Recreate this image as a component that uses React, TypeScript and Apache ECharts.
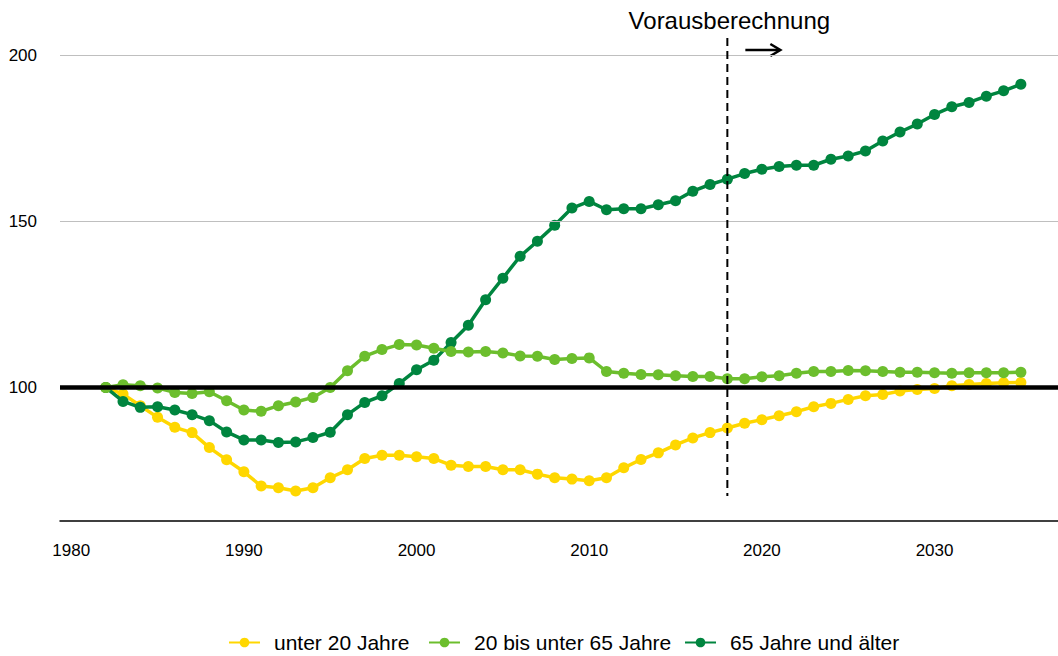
import React, { useEffect, useRef } from "react";
import * as echarts from "echarts";

const years: number[] = [];
for (let y = 1982; y <= 2035; y++) years.push(y);

const unter20 = [
  100, 98, 94.5, 91, 88, 86.4, 81.9, 78.2, 74.6, 70.3, 69.8, 68.8, 69.8, 72.8,
  75.2, 78.6, 79.6, 79.6, 79.1, 78.6, 76.6, 76.2, 76.2, 75.2, 75.2, 73.9, 72.8,
  72.4, 71.9, 72.8, 75.8, 78.3, 80.3, 82.7, 84.8, 86.4, 87.8, 89.2, 90.3, 91.5,
  92.7, 94.2, 95.2, 96.4, 97.5, 97.9, 98.9, 99.4, 99.7, 100.5, 100.9, 101.2,
  101.4, 101.5,
];
const mitte = [
  100, 100.8, 100.5, 99.8, 98.5, 98.2, 98.7, 96, 93.2, 92.8, 94.5, 95.6, 97,
  100, 105, 109.4, 111.4, 112.9, 112.8, 111.8, 110.8, 110.7, 110.8, 110.4,
  109.5, 109.4, 108.4, 108.7, 108.9, 104.8, 104.3, 103.9, 103.8, 103.5, 103.3,
  103.3, 102.6, 102.6, 103.2, 103.5, 104.3, 104.8, 104.8, 105.1, 105, 104.8,
  104.6, 104.6, 104.4, 104.3, 104.4, 104.4, 104.4, 104.6,
];
const alt = [
  100, 95.8, 94, 94.2, 93.2, 91.8, 90, 86.6, 84.2, 84.2, 83.4, 83.6, 84.9, 86.5,
  91.8, 95.5, 97.5, 101.2, 105.3, 108.2, 113.5, 118.7, 126.4, 132.9, 139.5, 144,
  148.8, 154, 156, 153.5, 153.8, 153.8, 155, 156.2, 159.1, 161.1, 162.7, 164.4,
  165.7, 166.5, 166.9, 166.9, 168.7, 169.7, 171.2, 174.2, 176.9, 179.3, 182.2,
  184.5, 185.8, 187.7, 189.3, 191.3,
];

const xTicks = [1980, 1990, 2000, 2010, 2020, 2030];
const yTicks = [100, 150, 200];
const seriesNames = ["unter 20 Jahre", "20 bis unter 65 Jahre", "65 Jahre und älter"];
const colors = ["#FFD700", "#6CBE2D", "#00853F"];
const forecastYear = 2018;
const forecastLabel = "Vorausberechnung";

const FONT = "'Liberation Sans', Arial, sans-serif";
const legendLefts = [228, 428, 684];

export default function App() {
  const ref = useRef<HTMLDivElement>(null);
  useEffect(() => {
    document.body.style.margin = "0";
    if (!ref.current) return;
    const chart = echarts.init(ref.current, null, { renderer: "svg" });
    const mk = (name: string, vals: number[], color: string, z: number) => ({
      name,
      type: "line",
      data: years.map((y, i) => [y, vals[i]]),
      symbol: "circle",
      symbolSize: 11,
      showSymbol: true,
      lineStyle: { color, width: 3.5 },
      itemStyle: { color },
      z,
    });
    chart.setOption({
      animation: false,
      textStyle: { fontFamily: FONT },
      grid: { left: 60, right: 0, top: 55.3, bottom: 135.7, containLabel: false },
      legend: seriesNames.map((n, i) => ({
        data: [n],
        left: legendLefts[i],
        top: 632,
        padding: 0,
        itemWidth: 31,
        itemHeight: 12,
        textStyle: { fontSize: 21, color: "#000", fontFamily: FONT, padding: [0, 0, 0, 9] },
      })),
      xAxis: {
        type: "value",
        min: 1979.35,
        max: 2037.15,
        splitLine: { show: false },
        axisTick: { show: false },
        axisLine: { show: true, lineStyle: { color: "#000", width: 1.5 } },
        axisLabel: {
          customValues: xTicks,
          color: "#000",
          fontSize: 17,
          margin: 22,
          fontFamily: FONT,
          formatter: (v: number) => String(v),
        },
      },
      yAxis: {
        type: "value",
        min: 60,
        max: 200,
        splitLine: { show: false },
        axisTick: { show: false },
        axisLine: { show: false },
        axisLabel: {
          customValues: yTicks,
          color: "#000",
          fontSize: 17,
          margin: 23,
          fontFamily: FONT,
        },
      },
      series: [
        {
          name: "_ref",
          type: "line",
          data: [],
          z: 1,
          silent: true,
          markLine: {
            silent: true,
            symbol: "none",
            label: { show: false },
            data: [
              { yAxis: 150, lineStyle: { color: "#BFBFBF", width: 1, type: "solid" } },
              { yAxis: 200, lineStyle: { color: "#BFBFBF", width: 1, type: "solid" } },
              { yAxis: 100, lineStyle: { color: "#000", width: 4.5, type: "solid" } },
            ],
          },
        },
        mk(seriesNames[0], unter20, colors[0], 2),
        mk(seriesNames[1], mitte, colors[1], 4),
        mk(seriesNames[2], alt, colors[2], 3),
      ],
    });
    const x = chart.convertToPixel({ xAxisIndex: 0 }, forecastYear) as number;
    const yTop = chart.convertToPixel({ yAxisIndex: 0 }, 205.2) as number;
    const yBot = chart.convertToPixel({ yAxisIndex: 0 }, 67.3) as number;
    chart.setOption({
      graphic: [
        {
          type: "line",
          shape: { x1: x, y1: yTop, x2: x, y2: yBot },
          style: { stroke: "#000", lineWidth: 2, lineDash: [8, 5] },
          z: 10,
        },
        {
          type: "text",
          x: x + 2,
          y: 20,
          style: {
            text: forecastLabel,
            fontSize: 24,
            fontFamily: FONT,
            fill: "#000",
            align: "center",
            verticalAlign: "middle",
          },
        },
        {
          type: "line",
          shape: { x1: x + 18, y1: 50, x2: x + 52, y2: 50 },
          style: { stroke: "#000", lineWidth: 2.5 },
        },
        {
          type: "polyline",
          shape: { points: [[x + 43, 44], [x + 53, 50], [x + 43, 56]] },
          style: { stroke: "#000", lineWidth: 2.5, fill: "none" },
        },
      ],
    });
    return () => chart.dispose();
  }, []);
  return <div ref={ref} style={{ width: 1058, height: 656 }} />;
}
